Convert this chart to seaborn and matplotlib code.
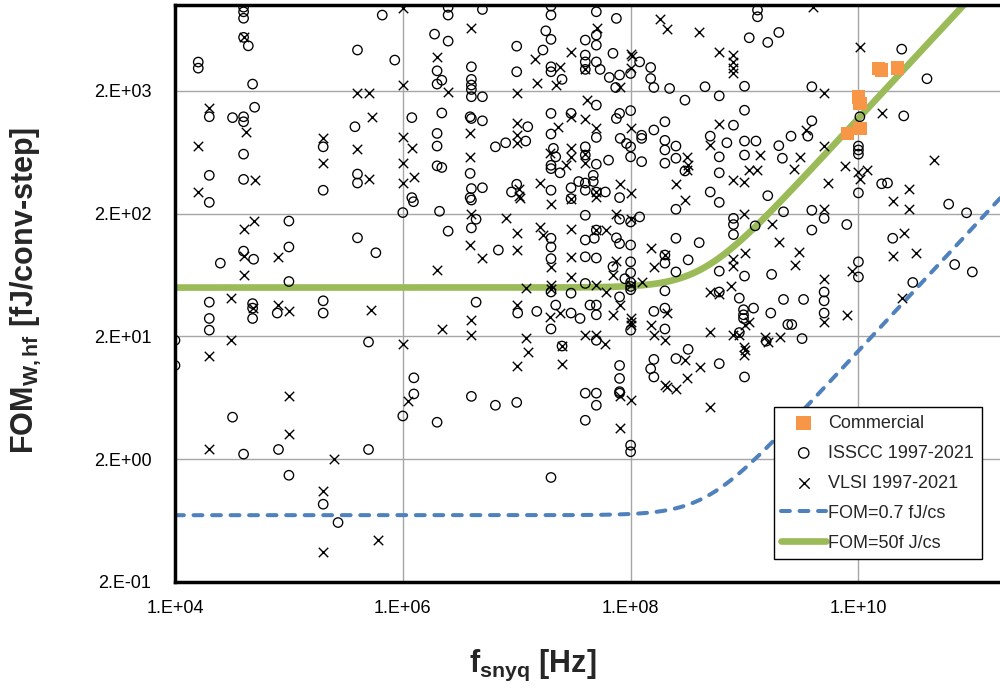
import numpy as np
import matplotlib
matplotlib.use("Agg")
import matplotlib.pyplot as plt
from matplotlib.ticker import NullLocator
import seaborn as sns

# ---------------------------------------------------------------------------
# Data: Nyquist frequency [Hz] and FOM_W,hf [fJ/conv-step]
# ---------------------------------------------------------------------------
commercial_f = [8.0e9, 1.03e10, 1.0e10, 1.03e10, 1.5e10, 1.6e10, 2.2e10]
commercial_fom = [900, 990, 1790, 1580, 3050, 2950, 3080]

isscc_f = [
    4.0e4, 4.0e4, 4.0e4, 4.0e4, 4.4e4, 1.6e4, 1.6e4, 4.0e5, 4.8e4, 5.0e4,
    2.0e4, 3.2e4, 4.0e4, 4.0e4, 4.0e4, 2.0e4, 4.0e4, 2.0e5, 2.0e5, 3.8e5,
    4.0e5, 4.0e5, 6.6e5, 2.5e6, 2.5e6, 5.0e6, 2.0e7, 2.0e7, 1.9e6, 2.5e6,
    8.5e5, 2.0e6, 2.2e6, 2.0e6, 4.0e6, 4.0e6, 4.0e6, 4.0e6, 4.0e6, 5.0e6,
    1.0e7, 1.0e7, 1.8e7, 2.0e7, 1.7e7, 2.0e7, 2.0e7, 2.5e7, 1.2e6, 2.2e6,
    3.9e6, 4.0e6, 5.0e6, 1.25e7, 1.2e7, 8.0e6, 6.5e6, 2.0e6, 2.0e6, 2.0e6,
    2.2e6, 3.9e6, 4.0e6, 5.0e6, 2.0e7, 2.0e7, 3.0e7, 2.1e7, 2.2e7, 2.0e7,
    2.0e7, 2.4e7, 2.0e7, 1.0e7, 9.0e6, 3.0e7, 3.5e7, 5.0e7, 7.5e7, 4.0e7,
    5.0e7, 5.0e7, 4.0e7, 4.0e7, 4.0e7, 5.0e7, 5.4e7, 7.0e7, 1.2e8, 1.0e8,
    6.5e7, 8.0e7, 7.4e7, 1.5e8, 1.5e8, 1.6e8, 2.2e8, 4.5e8, 6.0e8, 3.0e8,
    1.0e9, 1.1e9, 1.6e9, 2.0e9, 1.3e9, 1.3e9, 5.0e7, 8.0e7, 7.5e7, 1.0e8,
    5.0e7, 8.1e7, 9.2e7, 1.0e8, 1.25e8, 1.25e8, 1.6e8, 2.0e8, 2.0e8, 2.0e8,
    2.5e8, 2.5e8, 1.0e8, 1.25e8, 6.4e7, 4.0e7, 4.0e7, 5.0e7, 2.0e8, 3.0e8,
    4.0e7, 4.7e7, 4.7e7, 4.0e7, 5.0e7, 6.0e7, 8.0e8, 5.0e8, 7.0e8, 1.0e9,
    1.26e9, 6.0e8, 1.0e9, 6.0e8, 5.0e8, 1.6e9, 2.0e9, 2.15e9, 1.0e9, 2.56e9,
    2.4e10, 4.0e10, 3.9e9, 2.5e10, 1.03e10, 3.9e9, 3.6e9, 1.0e10, 1.0e10, 1.0e10,
    1.0e10, 1.6e10, 1.8e10, 2.0e4, 1.0e5, 1.0e5, 4.0e5, 5.8e5, 2.5e4, 4.0e4,
    4.9e4, 1.0e5, 2.0e4, 4.8e4, 4.8e4, 4.8e4, 7.9e4, 2.0e5, 2.0e5, 2.0e4,
    2.0e4, 1.0e4, 1.0e4, 5.0e5, 1.2e6, 1.24e6, 3.9e6, 4.0e6, 3.0e7, 1.0e6,
    2.1e6, 4.4e6, 4.0e6, 2.5e6, 2.0e7, 2.0e7, 2.0e7, 6.9e6, 2.0e7, 3.0e7,
    4.4e6, 1.02e7, 1.5e7, 2.2e7, 3.0e7, 3.6e7, 2.0e7, 2.5e7, 1.25e6, 8.0e7,
    4.0e7, 8.0e7, 1.0e8, 1.2e8, 5.0e7, 4.8e7, 4.0e7, 7.5e7, 8.0e7, 1.0e8,
    4.0e7, 5.0e7, 7.0e7, 1.0e8, 2.5e8, 2.5e8, 6.0e8, 4.0e8, 2.0e8, 2.0e8,
    3.2e8, 2.5e8, 1.0e8, 1.0e8, 1.0e8, 1.0e8, 8.9e7, 4.0e7, 8.0e7, 4.4e7,
    5.0e7, 5.0e7, 1.6e8, 2.0e8, 2.0e8, 1.0e8, 5.0e7, 2.0e8, 6.0e8, 6.0e8,
    1.0e9, 8.0e8, 8.0e8, 8.0e8, 1.24e9, 2.2e9, 1.73e9, 9.0e8, 1.2e9, 9.8e8,
    9.8e8, 9.8e8, 1.7e9, 2.2e9, 9.0e8, 1.55e9, 3.2e8, 2.5e8, 6.0e8, 1.0e9,
    1.6e8, 1.5e8, 1.6e8, 8.0e7, 8.0e7, 8.0e7, 6.2e10, 8.9e10, 3.9e9, 5.0e9,
    7.9e9, 3.9e9, 2.0e10, 1.0e10, 1.0e10, 7.0e10, 1.0e11, 5.0e9, 5.0e9, 5.0e9,
    3.0e10, 3.3e9, 2.4e9, 2.6e9, 3.2e9, 3.2e4, 4.0e4, 8.1e4, 5.0e5, 1.0e5,
    2.0e5, 2.7e5, 1.25e6, 1.0e6, 2.0e6, 4.0e6, 6.5e6, 1.0e7, 2.0e7, 4.0e7,
    5.0e7, 5.0e7, 4.0e7, 8.0e7, 1.0e8, 1.0e8,
]
isscc_fom = [
    9600, 8800, 7800, 5450, 4650, 3430, 3060, 4300, 2270, 1470,
    1230, 1210, 1230, 1120, 610, 410, 380, 700, 310, 1020,
    420, 355, 8280, 9570, 8280, 9200, 9800, 8280, 5790, 5080,
    3560, 2910, 2440, 2270, 3140, 2480, 2230, 2050, 1790, 1790,
    4620, 2860, 6160, 5250, 4300, 3140, 2860, 2480, 1210, 1320,
    1230, 1190, 1140, 1020, 780, 755, 700, 900, 710, 490,
    475, 425, 320, 325, 1310, 890, 1310, 680, 580, 495,
    465, 430, 310, 347, 300, 325, 365, 8810, 7780, 5180,
    5690, 4710, 3910, 3440, 2990, 3440, 2990, 4040, 3440, 2770,
    2570, 2690, 2130, 3100, 2520, 2130, 2090, 2160, 1820, 1680,
    2180, 5410, 4960, 5980, 9100, 8020, 1530, 1310, 1190, 1380,
    835, 820, 745, 700, 870, 820, 960, 1120, 790, 660,
    710, 565, 580, 530, 545, 700, 600, 505, 515, 445,
    355, 410, 365, 310, 300, 300, 1050, 855, 755, 780,
    780, 580, 600, 430, 300, 280, 715, 565, 1390, 855,
    4370, 2510, 2160, 1250, 1230, 1140, 855, 710, 660, 610,
    295, 350, 355, 247, 174, 107, 127, 96, 79, 99,
    85, 56, 38, 37, 34, 28, 31, 39, 31, 28,
    22.5, 18.6, 11.6, 18.0, 270, 250, 270, 258, 265, 204,
    209, 180, 153, 144, 126, 107, 86, 101, 46, 45,
    38, 31, 32, 36, 31, 28, 23, 16.7, 9.2, 270,
    194, 180, 171, 188, 147, 126, 122, 127, 114, 111,
    89, 87, 74, 81, 126, 217, 247, 116, 92, 79,
    84, 67, 66, 55, 51, 48, 59, 54, 42, 36,
    36, 30, 32, 34, 47, 22.5, 18.6, 23, 46, 68,
    62, 183, 163, 135, 159, 207, 64, 41, 34, 33,
    30, 28, 31, 40, 21.5, 18.3, 15.7, 13.2, 12.0, 9.35,
    13.0, 10.9, 9.35, 11.6, 9.1, 7.1, 239, 203, 213, 183,
    163, 147, 126, 81, 61, 77, 67, 46, 39, 31,
    55, 40, 25, 25, 19.2, 4.4, 2.2, 2.4, 2.4, 1.48,
    0.86, 0.61, 6.8, 4.5, 4.0, 6.5, 5.5, 5.8, 1.42, 6.9,
    6.9, 5.5, 4.15, 6.9, 2.6, 2.3,
]

vlsi_f = [
    4.0e4, 2.0e4, 4.2e4, 1.6e4, 5.0e4, 1.6e4, 2.0e5, 2.0e5, 4.0e5, 5.1e5,
    5.4e5, 4.0e5, 5.1e5, 1.0e6, 4.0e6, 2.0e6, 2.5e6, 1.0e6, 1.0e7, 1.45e7,
    2.4e7, 1.5e7, 2.2e7, 3.0e7, 3.9e6, 1.0e7, 1.0e7, 1.0e7, 1.0e6, 1.2e6,
    1.0e6, 1.25e6, 1.0e6, 3.9e6, 2.3e7, 3.0e7, 1.96e7, 3.0e7, 3.0e7, 2.7e7,
    1.6e7, 1.05e7, 1.05e7, 5.1e7, 1.0e8, 1.03e8, 1.0e8, 4.0e7, 8.0e7, 1.8e8,
    2.1e8, 4.0e8, 6.0e8, 8.0e8, 8.0e8, 8.0e8, 8.0e8, 4.1e7, 4.0e7, 5.0e7,
    1.0e8, 4.0e7, 4.0e7, 3.1e8, 3.2e8, 3.1e8, 2.5e8, 8.0e7, 1.0e8, 5.0e7,
    6.0e8, 5.0e8, 1.37e9, 1.1e9, 1.28e9, 8.0e8, 9.8e8, 4.0e9, 1.03e10, 5.0e9,
    1.6e10, 3.5e9, 5.0e9, 3.1e9, 2.7e9, 7.6e9, 1.0e10, 1.18e10, 1.03e10, 5.4e9,
    2.8e10, 4.6e10, 4.0e4, 4.9e4, 4.0e4, 4.0e4, 8.1e4, 3.1e4, 4.8e4, 8.1e4,
    1.0e5, 5.3e5, 3.1e4, 2.0e4, 1.07e7, 2.0e7, 3.0e7, 4.0e6, 8.1e6, 1.0e7,
    1.6e7, 1.7e7, 2.0e7, 3.0e7, 3.0e7, 3.0e7, 3.9e6, 5.0e6, 1.0e7, 2.0e6,
    1.2e7, 2.0e7, 2.0e7, 1.0e7, 1.96e7, 2.4e7, 4.0e6, 4.0e6, 2.2e6, 1.0e6,
    1.2e7, 1.25e7, 1.0e7, 2.5e7, 2.5e7, 4.0e7, 5.0e7, 7.5e7, 1.0e8, 5.0e7,
    6.1e7, 7.5e7, 1.5e8, 3.0e8, 2.0e8, 1.6e8, 7.0e7, 1.25e8, 1.0e8, 5.0e7,
    6.1e7, 8.0e7, 7.0e7, 2.1e8, 1.0e8, 1.0e8, 1.0e8, 5.0e7, 6.0e7, 1.5e8,
    1.6e8, 2.0e8, 5.0e8, 5.0e8, 6.0e8, 7.6e8, 8.0e8, 8.0e8, 1.0e9, 9.8e8,
    1.73e9, 2.0e9, 1.0e9, 1.1e9, 8.0e8, 9.0e8, 9.8e8, 1.0e9, 9.8e8, 1.5e9,
    1.6e9, 2.05e9, 3.0e8, 4.1e8, 3.1e8, 2.0e8, 2.1e8, 2.5e8, 2.0e10, 2.8e10,
    5.0e9, 2.5e10, 3.0e9, 2.8e9, 2.0e10, 3.2e10, 8.7e9, 5.0e9, 5.0e9, 2.4e10,
    7.9e9, 1.0e5, 1.0e5, 2.0e4, 2.5e5, 2.0e5, 2.0e5, 6.1e5, 1.1e6, 8.0e7,
    1.0e8, 8.0e7, 5.0e8,
]
vlsi_fom = [
    5450, 1440, 930, 715, 375, 300, 820, 515, 1930, 1930,
    1230, 670, 385, 9380, 6440, 3790, 1960, 2230, 1910, 3610,
    3140, 2300, 2230, 4110, 900, 1100, 870, 745, 845, 680,
    515, 400, 355, 580, 1010, 1220, 620, 680, 580, 495,
    355, 320, 280, 6440, 3980, 3840, 3050, 2990, 2130, 7670,
    6320, 5980, 4160, 3910, 3440, 3050, 2770, 1680, 1190, 990,
    990, 610, 515, 580, 495, 450, 347, 347, 295, 300,
    1080, 720, 600, 450, 450, 375, 365, 9570, 4520, 1930,
    1320, 960, 710, 575, 465, 490, 440, 450, 385, 355,
    320, 545, 151, 174, 91, 63, 89, 41, 34, 36,
    32, 33, 18.6, 13.9, 270, 238, 262, 200, 185, 138,
    156, 134, 74, 151, 89, 61, 111, 87, 101, 69,
    50, 52, 49, 36, 29, 31, 27, 20.5, 23, 17.5,
    19.5, 14.8, 11.5, 16.7, 12.0, 20.5, 275, 200, 180, 147,
    147, 82, 105, 258, 92, 74, 63, 55, 52, 52,
    46, 36, 30, 31, 28, 26, 25, 20.5, 17.5, 25,
    20.5, 18.6, 21.8, 46, 44, 51, 86, 75, 96, 200,
    166, 118, 25, 26, 20.7, 20.5, 16.4, 15.5, 14.1, 19.8,
    18.0, 19.8, 12.8, 11.3, 9.2, 8.1, 7.8, 7.5, 253, 217,
    220, 140, 98, 76, 90, 96, 68, 59, 26, 41,
    30, 6.6, 3.2, 2.4, 2.0, 1.10, 0.35, 0.44, 6.0, 6.6,
    6.1, 3.6, 5.3,
]

# Envelope curves: flat FOM floor, rising above the jitter corner
fom_floor_low = 0.7     # fJ/conv-step
fom_floor_high = 50     # fJ/conv-step
corner_low = 4.6e8      # Hz
corner_high = 4.2e8     # Hz

x_ticks = [1e4, 1e6, 1e8, 1e10]
x_tick_labels = ["1.E+04", "1.E+06", "1.E+08", "1.E+10"]
y_ticks = [0.2, 2, 20, 200, 2000]
y_tick_labels = ["2.E-01", "2.E+00", "2.E+01", "2.E+02", "2.E+03"]

# ---------------------------------------------------------------------------
sns.set_theme(style="white")
plt.rcParams["font.family"] = ["Liberation Sans", "DejaVu Sans"]
plt.rcParams["mathtext.fontset"] = "custom"
plt.rcParams["mathtext.rm"] = "Liberation Sans"
plt.rcParams["mathtext.bf"] = "Liberation Sans:bold"
plt.rcParams["mathtext.it"] = "Liberation Sans:italic"

fig = plt.figure(figsize=(10, 6.92), dpi=100)
ax = fig.add_axes([0.175, 1 - 582 / 692, 0.825, 577 / 692])

orange = "#F79646"
blue = "#4F81BD"
green = "#9BBB59"

sns.scatterplot(x=commercial_f, y=commercial_fom, ax=ax, marker="s", s=95,
                color=orange, edgecolor="none", linewidth=0, zorder=4,
                label="Commercial", legend=False)
sns.scatterplot(x=isscc_f, y=isscc_fom, ax=ax, marker="o", s=46,
                facecolor="none", edgecolor="black", linewidth=0.95, zorder=3,
                label="ISSCC 1997-2021", legend=False)
sns.scatterplot(x=vlsi_f, y=vlsi_fom, ax=ax, marker="x", s=46,
                color="black", linewidth=1.0, zorder=3,
                label="VLSI 1997-2021", legend=False)

f_curve = np.logspace(4, 11.3, 500)
low_curve = fom_floor_low * np.sqrt(1 + (f_curve / corner_low) ** 2)
high_curve = fom_floor_high * np.sqrt(1 + (f_curve / corner_high) ** 2)

sns.lineplot(x=f_curve, y=low_curve, ax=ax, color=blue, linewidth=2.9,
             linestyle=(0, (2.2, 2.4)), dash_capstyle="round", zorder=2,
             label="FOM=0.7 fJ/cs", legend=False)
sns.lineplot(x=f_curve, y=high_curve, ax=ax, color=green, linewidth=4.8,
             solid_capstyle="round", zorder=2,
             label="FOM=50f J/cs", legend=False)

ax.set_xscale("log")
ax.set_yscale("log")
ax.set_xlim(1e4, 1.75e11)
ax.set_ylim(0.2, 1e4)
ax.set_xticks(x_ticks)
ax.set_xticklabels(x_tick_labels)
ax.set_yticks(y_ticks)
ax.set_yticklabels(y_tick_labels)
ax.xaxis.set_minor_locator(NullLocator())
ax.yaxis.set_minor_locator(NullLocator())

ax.grid(True, which="major", color="#A6A6A6", linewidth=1.0, zorder=0)
ax.set_axisbelow(True)
ax.tick_params(axis="both", which="major", direction="out", length=5,
               width=0.8, color="#808080", labelsize=13, labelcolor="black")
ax.tick_params(axis="x", pad=8)
ax.tick_params(axis="y", pad=12)

for side in ("left", "bottom", "top"):
    ax.spines[side].set_visible(True)
    ax.spines[side].set_color("black")
    ax.spines[side].set_linewidth(2.5)
ax.spines["right"].set_visible(False)

ax.set_xlabel("")
ax.set_ylabel("")
fig.text(0.026, 0.58, r"FOM$_{\mathbf{W,hf}}$ [fJ/conv-step]", rotation=90,
         ha="center", va="center", fontsize=22, fontweight="bold")
fig.text(0.533, 0.038, r"f$_{\mathbf{snyq}}$ [Hz]", ha="center", va="center",
         fontsize=22, fontweight="bold")

handles, labels = ax.get_legend_handles_labels()
order = ["Commercial", "ISSCC 1997-2021", "VLSI 1997-2021",
         "FOM=0.7 fJ/cs", "FOM=50f J/cs"]
lookup = dict(zip(labels, handles))
leg = ax.legend([lookup[k] for k in order], order, loc="lower left",
                bbox_to_anchor=(0.726, 0.040), fontsize=13, frameon=True,
                fancybox=False, framealpha=1, edgecolor="black",
                handlelength=2.5, handletextpad=0.12, labelspacing=0.72,
                borderpad=0.4, borderaxespad=0, markerscale=1.1)
leg.get_frame().set_linewidth(1.0)

fig.savefig("out.png", dpi=100)
